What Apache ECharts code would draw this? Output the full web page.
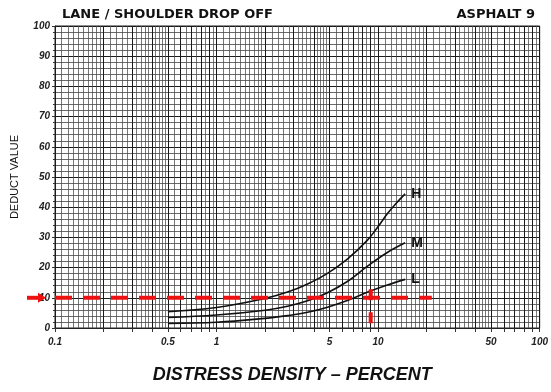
<!DOCTYPE html>
<html>
<head>
<meta charset="utf-8">
<script src="https://cdn.jsdelivr.net/npm/echarts@6/dist/echarts.min.js"></script>
<style>
  html, body { margin: 0; padding: 0; background: #fff; }
  #chart { width: 551px; height: 392px; }
</style>
</head>
<body>
<div id="chart"></div>
<script>
// distress density (percent) where each curve was read
const highX = [0.5, 1, 2, 2.75, 3.66, 4.86, 6.45, 8.56, 10, 11.4, 13.1, 14.7];
const highY = [5.4, 6.8, 9.8, 11.9, 14.6, 18.1, 22.8, 29.0, 33.6, 37.8, 41.6, 44.4];
const mediumX = [0.5, 1, 2, 2.75, 3.66, 4.86, 6.45, 8.56, 11.4, 14.7];
const mediumY = [3.5, 4.3, 5.9, 7.2, 9.0, 11.7, 15.4, 20.4, 25.0, 28.2];
const lowX = [0.5, 1, 2, 2.75, 3.66, 4.86, 6.45, 8.56, 11.4, 14.7];
const lowY = [1.5, 1.9, 3.2, 4.1, 5.2, 6.9, 9.1, 11.8, 14.2, 16.1];

// axis labels
const xLabels = [0.1, 0.5, 1, 5, 10, 50, 100];
const yLabels = [0, 10, 20, 30, 40, 50, 60, 70, 80, 90, 100];

// example reading marked in red
const readDensity = 9;
const readDeduct = 10;
const readLineEnd = 21.5;

// log graph paper lines: fine steps inside each decade
const fineLines = [];
const mainLines = [];
[0.1, 1, 10].forEach(function (d) {
  for (let i = 1; i < 10; i++) mainLines.push(+(i * d).toFixed(3));
  for (let v = 1.1; v < 2; v += 0.1) fineLines.push(+(v * d).toFixed(4));
  for (let v = 2.2; v < 5; v += 0.2) fineLines.push(+(v * d).toFixed(4));
  for (let v = 5.5; v < 10; v += 0.5) fineLines.push(+(v * d).toFixed(4));
});
mainLines.push(100);
const tickValues = mainLines.slice();

const chart = echarts.init(document.getElementById('chart'));

const curve = function (name, xs, ys) {
  return {
    name: name,
    type: 'line',
    data: xs.map(function (x, i) { return [x, ys[i]]; }),
    smooth: 0.4,
    symbol: 'none',
    lineStyle: { color: '#111', width: 1.6 },
    endLabel: {
      show: true,
      formatter: name,
      color: '#111',
      fontSize: 14,
      fontWeight: 'bold',
      fontFamily: 'Liberation Sans',
      distance: 6
    },
    z: 5
  };
};

chart.setOption({
  animation: false,
  backgroundColor: '#fff',
  grid: { left: 55, right: 8, top: 26, bottom: 64, show: true, borderColor: '#222', borderWidth: 1 },
  xAxis: {
    type: 'log',
    logBase: 10,
    min: 0.1,
    max: 100,
    name: 'DISTRESS DENSITY – PERCENT',
    nameLocation: 'middle',
    nameGap: 38,
    nameTextStyle: { fontFamily: 'Liberation Sans', fontSize: 18, fontWeight: 'bold', fontStyle: 'italic', color: '#111', padding: [0, 0, 0, -10] },
    axisLine: { show: true, lineStyle: { color: '#222', width: 1 } },
    axisTick: { show: true, length: 4, customValues: tickValues, lineStyle: { color: '#333' } },
    axisLabel: {
      customValues: xLabels,
      fontFamily: 'Liberation Sans',
      fontSize: 10,
      fontWeight: 'bold',
      fontStyle: 'italic',
      color: '#222',
      margin: 9,
      formatter: function (v) { return String(v); }
    },
    splitLine: { show: false },
    minorTick: { show: false }
  },
  yAxis: {
    type: 'value',
    min: 0,
    max: 100,
    interval: 10,
    name: 'DEDUCT VALUE',
    nameLocation: 'middle',
    nameGap: 35,
    nameRotate: 90,
    nameTextStyle: { fontFamily: '"Liberation Sans Narrow", "Liberation Sans"', fontSize: 11, color: '#111' },
    axisLine: { show: true, lineStyle: { color: '#222' } },
    axisTick: { show: true, length: 3, lineStyle: { color: '#333' } },
    minorTick: { show: true, splitNumber: 5, length: 2, lineStyle: { color: '#333' } },
    axisLabel: {
      fontFamily: 'Liberation Sans',
      fontSize: 10,
      fontWeight: 'bold',
      fontStyle: 'italic',
      color: '#222',
      margin: 5,
      formatter: function (v) { return yLabels.indexOf(v) >= 0 ? String(v) : ''; }
    },
    splitLine: { show: true, lineStyle: { color: '#1a1a1a', width: 1.2 } },
    minorSplitLine: { show: true, lineStyle: { color: '#444', width: 0.8 } }
  },
  graphic: [
    {
      id: 'title',
      type: 'text', left: 62, top: 8,
      style: { text: 'LANE / SHOULDER DROP OFF', font: 'bold 13px "DejaVu Sans"', fill: '#111' }
    },
    {
      id: 'subtitle',
      type: 'text', right: 16, top: 8,
      style: { text: 'ASPHALT 9', font: 'bold 13px "DejaVu Sans"', fill: '#111' }
    }
  ],
  series: [
    {
      name: 'paper',
      type: 'line',
      data: [],
      silent: true,
      markLine: {
        silent: true,
        symbol: 'none',
        label: { show: false },
        animation: false,
        data: fineLines.map(function (v) {
          return { xAxis: v, lineStyle: { color: '#4a4a4a', width: 0.75, type: 'solid' } };
        }).concat(mainLines.map(function (v) {
          return { xAxis: v, lineStyle: { color: '#1a1a1a', width: 1, type: 'solid' } };
        }))
      },
      z: 1
    },
    curve('H', highX, highY),
    curve('M', mediumX, mediumY),
    curve('L', lowX, lowY),
    {
      name: 'reading-h',
      type: 'line',
      data: [[0.1, readDeduct], [readLineEnd, readDeduct]],
      symbol: 'none',
      lineStyle: { color: '#ee1111', width: 4, type: [17, 11] },
      z: 6
    },
    {
      name: 'reading-v',
      type: 'line',
      data: [[readDensity, 12.8], [readDensity, 0]],
      symbol: 'none',
      lineStyle: { color: '#ee1111', width: 4, type: [11, 12] },
      z: 6
    }
  ]
});

// red arrow pointing at the deduct value axis
const yPix = chart.convertToPixel({ gridIndex: 0 }, [0.1, readDeduct])[1];
chart.setOption({
  graphic: [
    {
      id: 'arrowShaft',
      type: 'line',
      shape: { x1: 27, y1: yPix, x2: 40, y2: yPix },
      style: { stroke: '#ee1111', lineWidth: 4 },
      z: 10
    },
    {
      id: 'arrowHead',
      type: 'polygon',
      shape: { points: [[38, yPix - 5], [46, yPix], [38, yPix + 5]] },
      style: { fill: '#ee1111' },
      z: 10
    }
  ]
});
</script>
</body>
</html>
